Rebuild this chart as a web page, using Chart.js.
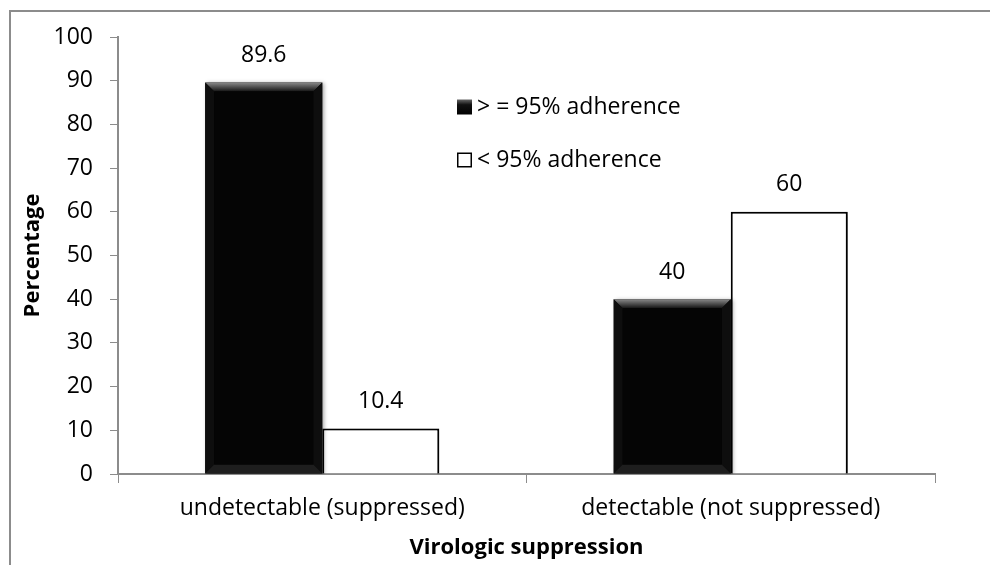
<!DOCTYPE html>
<html>
<head>
<meta charset="utf-8">
<script src="https://cdn.jsdelivr.net/npm/chart.js@4.4.0/dist/chart.umd.min.js"></script>
<style>
body { margin: 0; background: #fff; }
#wrap { position: relative; width: 990px; height: 565px; overflow: hidden; }
#frame { position: absolute; left: 9px; top: 10px; width: 990px; height: 565px;
         border-left: 2px solid #8c8c8c; border-top: 2px solid #8c8c8c; }
canvas { position: absolute; left: 0; top: 0; }
</style>
</head>
<body>
<div id="wrap">
  <div id="frame"></div>
  <canvas id="myChart" width="990" height="565"></canvas>
</div>
<script>
const categories = ["undetectable (suppressed)", "detectable (not suppressed)"];
const seriesNames = ["> = 95% adherence", "< 95% adherence"];
const highAdherence = [89.6, 40];
const lowAdherence = [10.4, 60];

const FONT = "'Open Sans', Lato, sans-serif";
const FSIZE = 23;
const TSIZE = 22;
const axisGray = '#8c8c8c';

// value text above every bar
const valueLabels = {
    id: 'valueLabels',
    afterDatasetsDraw(chart) {
        const ctx = chart.ctx;
        ctx.save();
        ctx.shadowColor = 'transparent';
        ctx.font = FSIZE + "px " + FONT;
        ctx.fillStyle = '#000';
        ctx.textAlign = 'center';
        ctx.textBaseline = 'middle';
        chart.data.datasets.forEach((ds, i) => {
            chart.getDatasetMeta(i).data.forEach((bar, j) => {
                ctx.fillText(String(ds.data[j]), bar.x, bar.y - 27);
            });
        });
        ctx.restore();
    }
};

// soft shadow + bevel on the black bars
const barLook = {
    id: 'barLook',
    beforeDatasetsDraw(chart) {
        const ctx = chart.ctx;
        ctx.save();
        ctx.shadowColor = 'rgba(0,0,0,0.35)';
        ctx.shadowBlur = 4;
        ctx.shadowOffsetX = 2;
        ctx.shadowOffsetY = 1;
    },
    afterDatasetsDraw(chart) {
        const ctx = chart.ctx;
        ctx.restore();
        ctx.save();
        chart.getDatasetMeta(0).data.forEach((bar) => {
            const p = bar.getProps(['x', 'y', 'base', 'width'], true);
            const l = p.x - p.width / 2, r = p.x + p.width / 2;
            const t = p.y, b = p.base, d = 9;
            const g = ctx.createLinearGradient(0, t, 0, t + d);
            g.addColorStop(0, '#8a8a8a');
            g.addColorStop(1, '#151515');
            ctx.fillStyle = g;
            ctx.beginPath();
            ctx.moveTo(l, t); ctx.lineTo(r, t); ctx.lineTo(r - d, t + d); ctx.lineTo(l + d, t + d);
            ctx.closePath(); ctx.fill();
            ctx.fillStyle = '#0e0e0e';
            ctx.beginPath();
            ctx.moveTo(l, t); ctx.lineTo(l + d, t + d); ctx.lineTo(l + d, b - d); ctx.lineTo(l, b);
            ctx.closePath(); ctx.fill();
            ctx.beginPath();
            ctx.moveTo(r, t); ctx.lineTo(r - d, t + d); ctx.lineTo(r - d, b - d); ctx.lineTo(r, b);
            ctx.closePath(); ctx.fill();
            ctx.fillStyle = '#1e1e1e';
            ctx.beginPath();
            ctx.moveTo(l, b); ctx.lineTo(l + d, b - d); ctx.lineTo(r - d, b - d); ctx.lineTo(r, b);
            ctx.closePath(); ctx.fill();
            ctx.fillStyle = '#050505';
            ctx.fillRect(l + d, t + d, p.width - 2 * d, b - t - 2 * d);
        });
        ctx.restore();
    }
};

// legend drawn inside the plot, as in the original
const insideLegend = {
    id: 'insideLegend',
    afterDraw(chart) {
        const ctx = chart.ctx;
        const x = 457, rows = [107, 160], box = 15;
        ctx.save();
        ctx.font = FSIZE + "px " + FONT;
        ctx.textBaseline = 'middle';
        ctx.textAlign = 'left';
        chart.data.datasets.forEach((ds, i) => {
            const y = rows[i];
            if (i === 0) {
                const g = ctx.createLinearGradient(0, y - box / 2, 0, y + box / 2);
                g.addColorStop(0, '#666');
                g.addColorStop(0.35, '#111');
                g.addColorStop(1, '#000');
                ctx.fillStyle = g;
                ctx.fillRect(x, y - box / 2, box, box);
            } else {
                ctx.fillStyle = '#fff';
                ctx.fillRect(x, y - box / 2, box, box);
                ctx.strokeStyle = '#000';
                ctx.lineWidth = 1.5;
                ctx.strokeRect(x + 0.75, y - box / 2 + 0.75, box - 1.5, box - 1.5);
            }
            ctx.fillStyle = '#000';
            ctx.fillText(ds.label, x + box + 5, y);
        });
        ctx.restore();
    }
};

new Chart(document.getElementById('myChart'), {
    type: 'bar',
    data: {
        labels: categories,
        datasets: [{
            label: seriesNames[0],
            data: highAdherence,
            backgroundColor: '#050505',
            borderWidth: 0
        }, {
            label: seriesNames[1],
            data: lowAdherence,
            backgroundColor: '#ffffff',
            borderColor: '#000000',
            borderWidth: 2
        }]
    },
    options: {
        responsive: false,
        animation: false,
        layout: { padding: { top: 37, right: 55, left: 12, bottom: 0 } },
        datasets: { bar: { categoryPercentage: 0.573, barPercentage: 1.0 } },
        plugins: { legend: { display: false }, tooltip: { enabled: false } },
        scales: {
            x: {
                grid: { drawOnChartArea: false, drawTicks: true, tickLength: 9, color: axisGray, offset: true },
                border: { color: axisGray, width: 2 },
                ticks: { color: '#000', font: { family: FONT, size: FSIZE }, padding: 12 },
                title: { display: true, text: 'Virologic suppression', color: '#000',
                         font: { family: FONT, size: TSIZE, weight: 'bold' }, padding: { top: 0, bottom: 4 } },
                afterFit: (s) => { s.height = 91; }
            },
            y: {
                min: 0, max: 100,
                grid: { drawOnChartArea: false, drawTicks: true, tickLength: 8, color: axisGray },
                border: { color: axisGray, width: 2 },
                ticks: { stepSize: 10, color: '#000', font: { family: FONT, size: FSIZE }, padding: 17 },
                title: { display: true, text: 'Percentage', color: '#000',
                         font: { family: FONT, size: TSIZE, weight: 'bold' }, padding: { top: 8, bottom: 0 } },
                afterFit: (s) => { s.width = 106; }
            }
        }
    },
    plugins: [barLook, valueLabels, insideLegend]
});
</script>
</body>
</html>
